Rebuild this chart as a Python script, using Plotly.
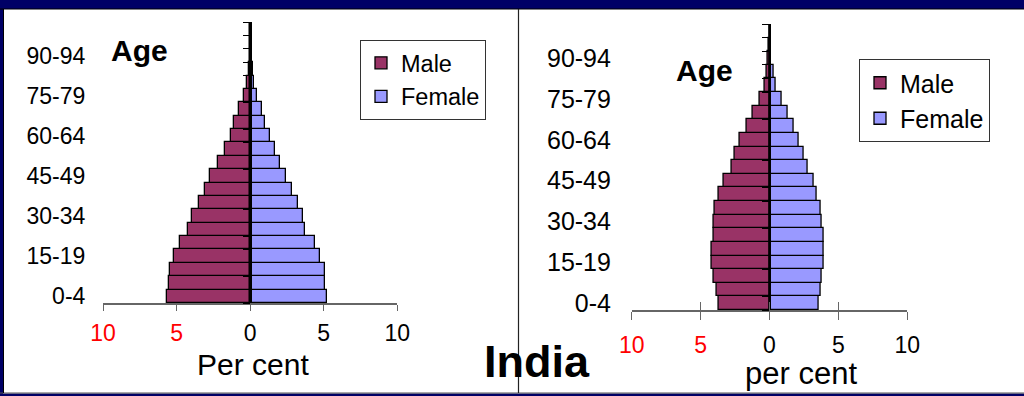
import plotly.graph_objects as go

# ---------------- data ----------------
age_groups = ["0-4", "5-9", "10-14", "15-19", "20-24", "25-29", "30-34", "35-39",
              "40-44", "45-49", "50-54", "55-59", "60-64", "65-69", "70-74", "75-79",
              "80-84", "85-89", "90-94", "95-99", "100+"]

left_male = [5.65, 5.53, 5.42, 5.19, 4.74, 4.2, 3.97, 3.51, 3.08, 2.74, 2.2, 1.72,
             1.32, 1.09, 0.77, 0.43, 0.23, 0.09, 0.04, 0.02, 0.01]
left_female = [5.24, 5.1, 5.1, 4.78, 4.44, 3.76, 3.56, 3.24, 2.81, 2.45, 2.02, 1.68,
               1.34, 1.02, 0.82, 0.45, 0.29, 0.18, 0.06, 0.02, 0.01]

right_male = [3.7, 3.83, 4.04, 4.16, 4.16, 4.07, 4.07, 3.95, 3.7, 3.34, 2.74, 2.49,
              2.13, 1.67, 1.19, 0.73, 0.36, 0.22, 0.1, 0.03, 0.01]
right_female = [3.56, 3.68, 3.78, 3.9, 3.9, 3.9, 3.78, 3.68, 3.44, 3.22, 2.74, 2.49,
                2.13, 1.79, 1.31, 0.92, 0.46, 0.27, 0.12, 0.04, 0.01]

x_tick_values = [-10, -5, 0, 5, 10]
x_tick_labels = ['<span style="color:#ff0000">10</span>', '<span style="color:#ff0000">5</span>',
                 "0", "5", "10"]
label_every = 3
last_labelled = "90-94"

# ---------------- styling ----------------
W, H = 1024, 396
MALE = "#993366"
FEMALE = "#9999ff"
NAVY = "#000066"
FONT = "Liberation Sans, Arial, sans-serif"

idx = list(range(len(age_groups)))
stop = age_groups.index(last_labelled)
label_idx = [i for i in idx if i % label_every == 0 and i <= stop]
label_txt = [age_groups[i] for i in label_idx]
bounds = [i - 0.5 for i in idx] + [idx[-1] + 0.5]


def px(v):
    return v / W


def py(v):
    return 1 - v / H


fig = go.Figure()

bar_line = dict(color="black", width=1.3)
fig.add_trace(go.Bar(y=idx, x=[-v for v in left_male], orientation="h", name="Male",
                     marker=dict(color=MALE, line=bar_line), width=1,
                     xaxis="x", yaxis="y", legend="legend"))
fig.add_trace(go.Bar(y=idx, x=left_female, orientation="h", name="Female",
                     marker=dict(color=FEMALE, line=bar_line), width=1,
                     xaxis="x", yaxis="y", legend="legend"))
fig.add_trace(go.Bar(y=idx, x=[-v for v in right_male], orientation="h", name="Male",
                     marker=dict(color=MALE, line=bar_line), width=1,
                     xaxis="x2", yaxis="y2", legend="legend2"))
fig.add_trace(go.Bar(y=idx, x=right_female, orientation="h", name="Female",
                     marker=dict(color=FEMALE, line=bar_line), width=1,
                     xaxis="x3", yaxis="y2", legend="legend2"))

yrange = [-0.5, len(age_groups) - 0.5]


def xaxis_common(domain, size):
    return dict(domain=domain, range=[-10, 10], showgrid=False, zeroline=False,
                showline=True, linecolor="#666666", linewidth=1.5,
                ticks="outside", ticklen=6, tickwidth=1.3, tickcolor="#666666",
                tickmode="array", tickvals=x_tick_values, ticktext=x_tick_labels,
                tickfont=dict(size=size, color="black", family=FONT), fixedrange=True,
                automargin=False)


def yaxis_common(domain, center, standoff, size):
    return dict(domain=domain, range=yrange, anchor="free", position=center,
                showgrid=False, zeroline=False, showline=True, linecolor="black",
                linewidth=1.5, ticks="", tickmode="array", tickvals=label_idx,
                ticktext=label_txt, ticklabelstandoff=standoff,
                tickfont=dict(size=size, color="black", family=FONT),
                minor=dict(tickmode="array", tickvals=bounds, ticks="outside",
                           ticklen=7, tickwidth=1, tickcolor="black"),
                fixedrange=True, automargin=False)


xl = xaxis_common([px(103), px(397.3)], 23)
xl["anchor"] = "y"
xl["ticklabelstandoff"] = 3
xr = xaxis_common([px(631.7), px(907.3)], 23)
xr["anchor"] = "y2"
xr["ticklen"] = 8
xr["ticklabelstandoff"] = 6
xr3 = dict(overlaying="x2", anchor="y2", range=[-10, 10], showgrid=False, zeroline=False,
           showline=False, ticks="inside", ticklen=8, tickwidth=1.3, tickcolor="#666666",
           tickmode="array", tickvals=x_tick_values, showticklabels=False, fixedrange=True,
           automargin=False)

yl = yaxis_common([py(303), py(22)], px(250.7), 160, 23)
yr = yaxis_common([py(310), py(24)], px(769.7), 153, 25)

fig.update_layout(
    width=W, height=H, margin=dict(l=0, r=0, t=0, b=0, pad=0, autoexpand=False),
    autosize=False,
    paper_bgcolor="white", plot_bgcolor="rgba(0,0,0,0)",
    barmode="overlay", bargap=0,
    font=dict(family=FONT, color="black"),
    xaxis=xl, yaxis=yl, xaxis2=xr, yaxis2=yr, xaxis3=xr3,
    legend=dict(x=px(360), y=py(40), xanchor="left", yanchor="top",
                bordercolor="#333333", borderwidth=1, bgcolor="white",
                font=dict(size=23.5, family=FONT), traceorder="normal",
                itemclick=False, itemdoubleclick=False),
    legend2=dict(x=px(859), y=py(59), xanchor="left", yanchor="top",
                 bordercolor="#333333", borderwidth=1, bgcolor="white",
                 font=dict(size=25, family=FONT), traceorder="normal",
                 itemclick=False, itemdoubleclick=False),
    showlegend=True,
)

ann_font = dict(family=FONT, color="black")
fig.add_annotation(text="<b>Age</b>", x=px(109), y=py(50), xref="paper", yref="paper",
                   xanchor="left", yanchor="middle", showarrow=False,
                   font=dict(size=30, **ann_font))
fig.add_annotation(text="<b>Age</b>", x=px(674), y=py(70), xref="paper", yref="paper",
                   xanchor="left", yanchor="middle", showarrow=False,
                   font=dict(size=30, **ann_font))
fig.add_annotation(text="Per cent", x=px(253), y=py(364), xref="paper", yref="paper",
                   xanchor="center", yanchor="middle", showarrow=False,
                   font=dict(size=30, **ann_font))
fig.add_annotation(text="per cent", x=px(801), y=py(373), xref="paper", yref="paper",
                   xanchor="center", yanchor="middle", showarrow=False,
                   font=dict(size=31, **ann_font))
fig.add_annotation(text="<b>India</b>", x=px(537), y=py(361), xref="paper", yref="paper",
                   xanchor="center", yanchor="middle", showarrow=False,
                   font=dict(size=45, **ann_font))

# slide frame
shapes = [
    dict(type="rect", x0=0, x1=1, y0=py(9), y1=1, fillcolor=NAVY, line=dict(width=0)),
    dict(type="rect", x0=0, x1=px(3), y0=0, y1=1, fillcolor=NAVY, line=dict(width=0)),
    dict(type="rect", x0=0, x1=1, y0=0, y1=py(393.5), fillcolor=NAVY, line=dict(width=0)),
    dict(type="line", x0=0, x1=1, y0=py(9), y1=py(9), line=dict(color="black", width=1)),
    dict(type="line", x0=0, x1=1, y0=py(393), y1=py(393), line=dict(color="#555555", width=1)),
    dict(type="line", x0=px(3.5), x1=px(3.5), y0=py(9), y1=py(393),
         line=dict(color="black", width=1)),
    dict(type="line", x0=px(518.5), x1=px(518.5), y0=py(9), y1=py(393),
         line=dict(color="#222222", width=1.2)),
]
for s in shapes:
    s.update(xref="paper", yref="paper", layer="below")
    fig.add_shape(**s)

fig.write_html("out.html", config={"displayModeBar": False})
